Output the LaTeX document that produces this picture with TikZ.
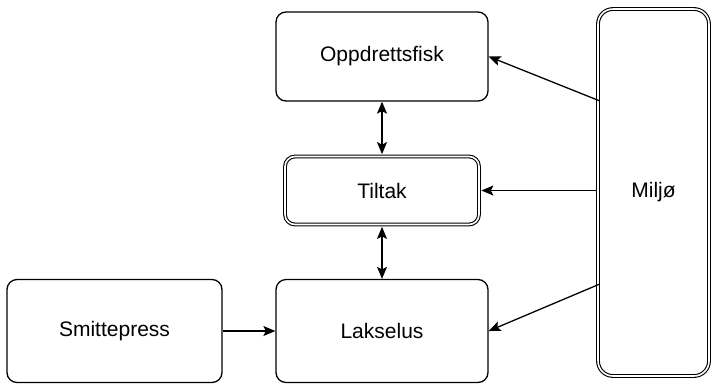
\documentclass[tikz,border=0pt]{standalone}
\usepackage{fontspec}
\setmainfont{Liberation Sans}
\usepackage{tikz}
\usetikzlibrary{positioning,calc,arrows.meta}

\begin{document}
\begin{tikzpicture}[x=1pt, y=-1pt,
    box/.style={draw, line width=1.3pt, rounded corners=10pt, align=center,
        font=\fontsize{21}{25}\selectfont, inner sep=0pt},
    dbox/.style={box, line width=1.1pt, double, double distance=1.6pt},
    link/.style={line width=1.3pt, -{Stealth[length=12pt, width=10pt, inset=2.5pt]}},
    twoway/.style={link, {Stealth[length=12pt, width=10pt, inset=2.5pt]}-{Stealth[length=12pt, width=10pt, inset=2.5pt]}}]
    \useasboundingbox (0, 0) rectangle (712, 384);

    % Boxes in the middle column
    \node[box, minimum width=212pt, minimum height=89pt] (oppdrett) at (382, 56.5) {Oppdrettsfisk};
    \node[dbox, minimum width=194pt, minimum height=68pt] (tiltak) at (382, 190.5) {Tiltak};
    \node[box, minimum width=212pt, minimum height=103pt] (lakselus) at (382, 331) {Lakselus};

    % Left box
    \node[box, minimum width=215pt, minimum height=103pt] (smitte) at (114.5, 331) {Smittepress};

    % Tall box on the right
    \node[dbox, rounded corners=15pt, minimum width=111pt, minimum height=367pt] (miljo) at (653.5, 192.5) {Miljø};

    % Arrows between the middle boxes
    \draw[twoway, shorten >=1.8pt] (oppdrett.south) -- (tiltak.north);
    \draw[twoway, shorten <=1.8pt] (tiltak.south) -- (lakselus.north);
    \draw[link] (smitte.east) -- (lakselus.west);

    % Arrows out of Miljo
    \draw[link, shorten <=-1.8pt] ([yshift=92.5pt]miljo.west) -- (oppdrett.east);
    \draw[link, shorten >=1.8pt] ([yshift=2pt]miljo.west) -- (tiltak.east);
    \draw[link, shorten <=-1.8pt] ([yshift=-92.5pt]miljo.west) -- (lakselus.east);
\end{tikzpicture}
\end{document}
